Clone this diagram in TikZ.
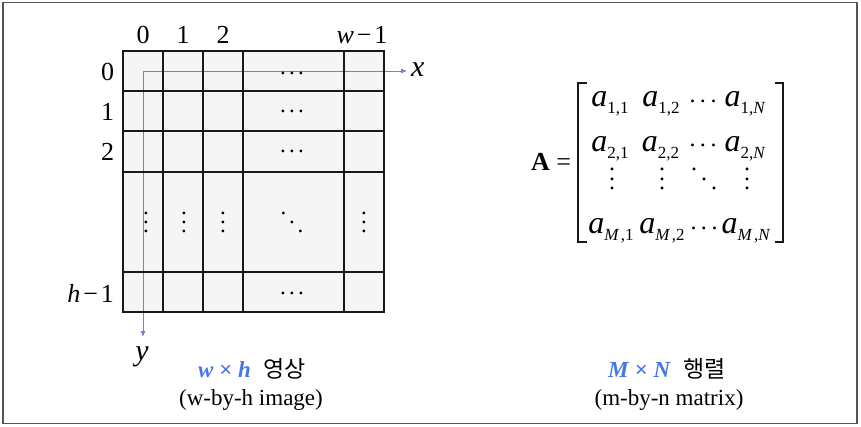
\documentclass[tikz,border=0pt]{standalone}
\usepackage{fontspec}
\setmainfont{Liberation Serif}
\newfontfamily\krfont{Noto Sans CJK KR}
\usetikzlibrary{arrows.meta}
\definecolor{capblue}{RGB}{72,118,230}
\definecolor{axisblue}{RGB}{105,135,205}
\definecolor{cellfill}{RGB}{245,245,245}
\definecolor{framegray}{RGB}{85,85,85}
\newcommand\hdotsx[1]{\hbox{.\kern#1.\kern#1.}}
\newcommand\vdotsx[1]{\vbox{\baselineskip=#1\lineskiplimit=-20pt\lineskip=0pt\hbox{.}\hbox{.}\hbox{.}}}
\newcommand\ddotsx[3]{\hbox{.\kern#1\raisebox{-#2}{.}\kern#1\raisebox{-#3}{.}}}
\newcommand\ent[1]{\textit{a}\raisebox{-7pt}{\fontsize{17}{17}\selectfont #1}}
\begin{document}
\begin{tikzpicture}[x=1pt,y=-1pt,
  every node/.style={inner sep=0pt, outer sep=0pt},
  lbl/.style={font=\fontsize{26}{28}\selectfont},
  axlbl/.style={font=\fontsize{30}{32}\selectfont\itshape},
  celldots/.style={font=\fontsize{23}{24}\selectfont},
  matdots/.style={font=\fontsize{24}{26}\selectfont},
  entry/.style={font=\fontsize{32}{34}\selectfont, anchor=base},
  gridline/.style={line width=1.2pt, black!90},
  axis/.style={axisblue, line width=0.9pt, -{Latex[length=6pt,width=5pt]}},
  brk/.style={line width=1.6pt, black!90},
  captxt/.style={font=\fontsize{23}{25}\selectfont, anchor=base}]
\useasboundingbox (0,0) rectangle (861,426);
\draw[framegray, line width=1.5pt] (3,2.5) rectangle (857,423.5);
% grid
\fill[cellfill] (123,51) rectangle (384,312);
\coordinate (o) at (143,71);
\coordinate (xe) at (407,71);
\coordinate (ye) at (143,337);
\draw[axis] (o) -- (xe);
\draw[axis] (o) -- (ye);
\draw[gridline] (123,51) rectangle (384,312);
\foreach \x in {163,203,243,344} \draw[gridline] (\x,51) -- (\x,312);
\foreach \y in {91,131,172,272} \draw[gridline] (123,\y) -- (384,\y);
% column labels
\node[lbl, anchor=base] (c0) at (143,43) {0};
\node[lbl, anchor=base] (c1) at (183,43) {1};
\node[lbl, anchor=base] (c2) at (223,43) {2};
\node[lbl, anchor=base] (cw) at (362,43) {\textit{w}\kern3pt−\kern3pt1};
% row labels
\node[lbl, anchor=base east] (r0) at (114,80) {0};
\node[lbl, anchor=base east] (r1) at (114,120) {1};
\node[lbl, anchor=base east] (r2) at (114,160) {2};
\node[lbl, anchor=base east] (rh) at (114,302) {\textit{h}\kern3pt−\kern3pt1};
% axis labels
\node[axlbl, anchor=base west] (xl) at (411,76) {x};
\node[axlbl, anchor=base] (yl) at (142,360) {y};
% cell dots
\node[celldots] (d0) at (292,73) {\hdotsx{3.3pt}};
\node[celldots] (d1) at (292,111) {\hdotsx{3.3pt}};
\node[celldots] (d2) at (292,151) {\hdotsx{3.3pt}};
\node[celldots] (dh) at (292,293) {\hdotsx{3.3pt}};
\node[celldots] (v0) at (146,222) {\vdotsx{9pt}};
\node[celldots] (v1) at (184,222) {\vdotsx{9pt}};
\node[celldots] (v2) at (223,222) {\vdotsx{9pt}};
\node[celldots] (v4) at (364,222) {\vdotsx{9pt}};
\node[celldots] (dd) at (292,222) {\ddotsx{2.8pt}{9pt}{18pt}};
% captions
\node[captxt] (cap1) at (252,377) {{\color{capblue}\textbf{\textit{w}} \textbf{×} \textbf{\textit{h}}}\hspace{0.55em}{\krfont 영상}};
\node[captxt] (cap2) at (251,405) {(w-by-h image)};
\node[captxt] (cap3) at (667,377) {{\color{capblue}\textbf{\textit{M}} \textbf{×} \textbf{\textit{N}}}\hspace{0.55em}{\krfont 행렬}};
\node[captxt] (cap4) at (669,405) {(m-by-n matrix)};
% matrix
\node[font=\fontsize{26}{28}\selectfont, anchor=base east] (A) at (571,170) {\textbf{A} =};
\draw[brk] (587,83) -- (578,83) -- (578,242) -- (587,242);
\draw[brk] (775,83) -- (783,83) -- (783,242) -- (775,242);
\node[entry] (a11) at (610,106) {\ent{1,1}};
\node[entry] (a12) at (661,106) {\ent{1,2}};
\node[matdots] (m1) at (703,101) {\hdotsx{4.5pt}};
\node[entry] (a1N) at (745,106) {\ent{1,\textit{N}}};
\node[entry] (a21) at (610,151) {\ent{2,1}};
\node[entry] (a22) at (660.5,151) {\ent{2,2}};
\node[matdots] (m2) at (703,145) {\hdotsx{4.5pt}};
\node[entry] (a2N) at (745,151) {\ent{2,\textit{N}}};
\node[matdots] (mv1) at (612,179) {\vdotsx{9.5pt}};
\node[matdots] (mv2) at (662,179) {\vdotsx{9.5pt}};
\node[matdots] (mdd) at (704,179) {\ddotsx{4pt}{9.5pt}{19pt}};
\node[matdots] (mv3) at (747,179) {\vdotsx{9.5pt}};
\node[entry] (aM1) at (611,233) {\ent{\textit{M}\kern1.5pt,1}};
\node[entry] (aM2) at (662,233) {\ent{\textit{M}\kern1.5pt,2}};
\node[matdots] (m4) at (704,228) {\hdotsx{4.5pt}};
\node[entry] (aMN) at (746,233) {\ent{\textit{M}\kern1.5pt,\textit{N}}};
\end{tikzpicture}
\end{document}
